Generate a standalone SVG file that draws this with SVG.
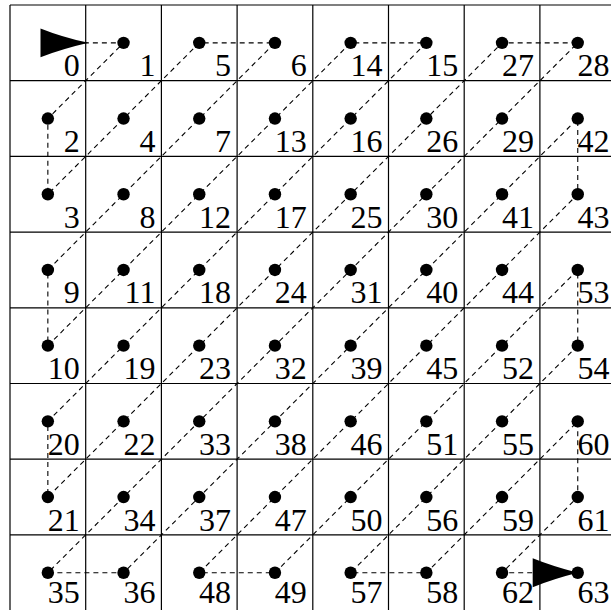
<svg xmlns="http://www.w3.org/2000/svg" width="611" height="610" viewBox="0 0 611 610">
<style>
.grid{fill:none;stroke:#000;stroke-width:1.2}
.conn{fill:none;stroke:#000;stroke-width:1.1;stroke-dasharray:5 4}
.arr{fill:#000;stroke:none}
circle{fill:#000}
text{font-family:"Liberation Serif","DejaVu Serif",serif;font-size:32px;text-anchor:end;fill:#000}
</style>
<rect width="611" height="610" fill="#fff"/>
<path class="grid" d="M10,5V610.6M85.7,5V610.6M161.4,5V610.6M237.1,5V610.6M312.8,5V610.6M388.5,5V610.6M464.2,5V610.6M539.9,5V610.6M615.6,5V610.6M10,5H615.6M10,80.7H615.6M10,156.4H615.6M10,232.1H615.6M10,307.8H615.6M10,383.5H615.6M10,459.2H615.6M10,534.9H615.6M10,610.6H615.6"/>
<g id="connectors">
<path class="conn" d="M47.85,42.85 L123.55,42.85 L47.85,118.55 L47.85,194.25 L199.25,42.85 L274.95,42.85 L47.85,269.95 L47.85,345.65 L350.65,42.85 L426.35,42.85 L47.85,421.35 L47.85,497.05 L502.05,42.85 L577.75,42.85 L47.85,572.75 L123.55,572.75 L577.75,118.55 L577.75,194.25 L199.25,572.75 L274.95,572.75 L577.75,269.95 L577.75,345.65 L350.65,572.75 L426.35,572.75 L577.75,421.35 L577.75,497.05 L502.05,572.75 L577.75,572.75"/>
</g>
<g id="nodes">
<g id="n0" transform="translate(47.85,42.85)"><circle r="6.2"/><text x="31.85" y="33.55">0</text></g>
<g id="n1" transform="translate(123.55,42.85)"><circle r="6.2"/><text x="31.85" y="33.55">1</text></g>
<g id="n5" transform="translate(199.25,42.85)"><circle r="6.2"/><text x="31.85" y="33.55">5</text></g>
<g id="n6" transform="translate(274.95,42.85)"><circle r="6.2"/><text x="31.85" y="33.55">6</text></g>
<g id="n14" transform="translate(350.65,42.85)"><circle r="6.2"/><text x="31.85" y="33.55">14</text></g>
<g id="n15" transform="translate(426.35,42.85)"><circle r="6.2"/><text x="31.85" y="33.55">15</text></g>
<g id="n27" transform="translate(502.05,42.85)"><circle r="6.2"/><text x="31.85" y="33.55">27</text></g>
<g id="n28" transform="translate(577.75,42.85)"><circle r="6.2"/><text x="31.85" y="33.55">28</text></g>

<g id="n2" transform="translate(47.85,118.55)"><circle r="6.2"/><text x="31.85" y="33.55">2</text></g>
<g id="n4" transform="translate(123.55,118.55)"><circle r="6.2"/><text x="31.85" y="33.55">4</text></g>
<g id="n7" transform="translate(199.25,118.55)"><circle r="6.2"/><text x="31.85" y="33.55">7</text></g>
<g id="n13" transform="translate(274.95,118.55)"><circle r="6.2"/><text x="31.85" y="33.55">13</text></g>
<g id="n16" transform="translate(350.65,118.55)"><circle r="6.2"/><text x="31.85" y="33.55">16</text></g>
<g id="n26" transform="translate(426.35,118.55)"><circle r="6.2"/><text x="31.85" y="33.55">26</text></g>
<g id="n29" transform="translate(502.05,118.55)"><circle r="6.2"/><text x="31.85" y="33.55">29</text></g>
<g id="n42" transform="translate(577.75,118.55)"><circle r="6.2"/><text x="31.85" y="33.55">42</text></g>

<g id="n3" transform="translate(47.85,194.25)"><circle r="6.2"/><text x="31.85" y="33.55">3</text></g>
<g id="n8" transform="translate(123.55,194.25)"><circle r="6.2"/><text x="31.85" y="33.55">8</text></g>
<g id="n12" transform="translate(199.25,194.25)"><circle r="6.2"/><text x="31.85" y="33.55">12</text></g>
<g id="n17" transform="translate(274.95,194.25)"><circle r="6.2"/><text x="31.85" y="33.55">17</text></g>
<g id="n25" transform="translate(350.65,194.25)"><circle r="6.2"/><text x="31.85" y="33.55">25</text></g>
<g id="n30" transform="translate(426.35,194.25)"><circle r="6.2"/><text x="31.85" y="33.55">30</text></g>
<g id="n41" transform="translate(502.05,194.25)"><circle r="6.2"/><text x="31.85" y="33.55">41</text></g>
<g id="n43" transform="translate(577.75,194.25)"><circle r="6.2"/><text x="31.85" y="33.55">43</text></g>

<g id="n9" transform="translate(47.85,269.95)"><circle r="6.2"/><text x="31.85" y="33.55">9</text></g>
<g id="n11" transform="translate(123.55,269.95)"><circle r="6.2"/><text x="31.85" y="33.55">11</text></g>
<g id="n18" transform="translate(199.25,269.95)"><circle r="6.2"/><text x="31.85" y="33.55">18</text></g>
<g id="n24" transform="translate(274.95,269.95)"><circle r="6.2"/><text x="31.85" y="33.55">24</text></g>
<g id="n31" transform="translate(350.65,269.95)"><circle r="6.2"/><text x="31.85" y="33.55">31</text></g>
<g id="n40" transform="translate(426.35,269.95)"><circle r="6.2"/><text x="31.85" y="33.55">40</text></g>
<g id="n44" transform="translate(502.05,269.95)"><circle r="6.2"/><text x="31.85" y="33.55">44</text></g>
<g id="n53" transform="translate(577.75,269.95)"><circle r="6.2"/><text x="31.85" y="33.55">53</text></g>

<g id="n10" transform="translate(47.85,345.65)"><circle r="6.2"/><text x="31.85" y="33.55">10</text></g>
<g id="n19" transform="translate(123.55,345.65)"><circle r="6.2"/><text x="31.85" y="33.55">19</text></g>
<g id="n23" transform="translate(199.25,345.65)"><circle r="6.2"/><text x="31.85" y="33.55">23</text></g>
<g id="n32" transform="translate(274.95,345.65)"><circle r="6.2"/><text x="31.85" y="33.55">32</text></g>
<g id="n39" transform="translate(350.65,345.65)"><circle r="6.2"/><text x="31.85" y="33.55">39</text></g>
<g id="n45" transform="translate(426.35,345.65)"><circle r="6.2"/><text x="31.85" y="33.55">45</text></g>
<g id="n52" transform="translate(502.05,345.65)"><circle r="6.2"/><text x="31.85" y="33.55">52</text></g>
<g id="n54" transform="translate(577.75,345.65)"><circle r="6.2"/><text x="31.85" y="33.55">54</text></g>

<g id="n20" transform="translate(47.85,421.35)"><circle r="6.2"/><text x="31.85" y="33.55">20</text></g>
<g id="n22" transform="translate(123.55,421.35)"><circle r="6.2"/><text x="31.85" y="33.55">22</text></g>
<g id="n33" transform="translate(199.25,421.35)"><circle r="6.2"/><text x="31.85" y="33.55">33</text></g>
<g id="n38" transform="translate(274.95,421.35)"><circle r="6.2"/><text x="31.85" y="33.55">38</text></g>
<g id="n46" transform="translate(350.65,421.35)"><circle r="6.2"/><text x="31.85" y="33.55">46</text></g>
<g id="n51" transform="translate(426.35,421.35)"><circle r="6.2"/><text x="31.85" y="33.55">51</text></g>
<g id="n55" transform="translate(502.05,421.35)"><circle r="6.2"/><text x="31.85" y="33.55">55</text></g>
<g id="n60" transform="translate(577.75,421.35)"><circle r="6.2"/><text x="31.85" y="33.55">60</text></g>

<g id="n21" transform="translate(47.85,497.05)"><circle r="6.2"/><text x="31.85" y="33.55">21</text></g>
<g id="n34" transform="translate(123.55,497.05)"><circle r="6.2"/><text x="31.85" y="33.55">34</text></g>
<g id="n37" transform="translate(199.25,497.05)"><circle r="6.2"/><text x="31.85" y="33.55">37</text></g>
<g id="n47" transform="translate(274.95,497.05)"><circle r="6.2"/><text x="31.85" y="33.55">47</text></g>
<g id="n50" transform="translate(350.65,497.05)"><circle r="6.2"/><text x="31.85" y="33.55">50</text></g>
<g id="n56" transform="translate(426.35,497.05)"><circle r="6.2"/><text x="31.85" y="33.55">56</text></g>
<g id="n59" transform="translate(502.05,497.05)"><circle r="6.2"/><text x="31.85" y="33.55">59</text></g>
<g id="n61" transform="translate(577.75,497.05)"><circle r="6.2"/><text x="31.85" y="33.55">61</text></g>

<g id="n35" transform="translate(47.85,572.75)"><circle r="6.2"/><text x="31.85" y="30.5">35</text></g>
<g id="n36" transform="translate(123.55,572.75)"><circle r="6.2"/><text x="31.85" y="30.5">36</text></g>
<g id="n48" transform="translate(199.25,572.75)"><circle r="6.2"/><text x="31.85" y="30.5">48</text></g>
<g id="n49" transform="translate(274.95,572.75)"><circle r="6.2"/><text x="31.85" y="30.5">49</text></g>
<g id="n57" transform="translate(350.65,572.75)"><circle r="6.2"/><text x="31.85" y="30.5">57</text></g>
<g id="n58" transform="translate(426.35,572.75)"><circle r="6.2"/><text x="31.85" y="30.5">58</text></g>
<g id="n62" transform="translate(502.05,572.75)"><circle r="6.2"/><text x="31.85" y="30.5">62</text></g>
<g id="n63" transform="translate(577.75,572.75)"><circle r="6.2"/><text x="31.85" y="30.5">63</text></g>
</g>
<g id="arrows">
<path class="arr" d="M40.5,28.4 Q62,37 88.5,42.85 Q62,49 40.5,57.3 Z"/>
<path class="arr" d="M532.7,558.3 Q553,566.5 577.75,572.75 Q553,579 532.7,587.2 Z"/>
</g>
</svg>
